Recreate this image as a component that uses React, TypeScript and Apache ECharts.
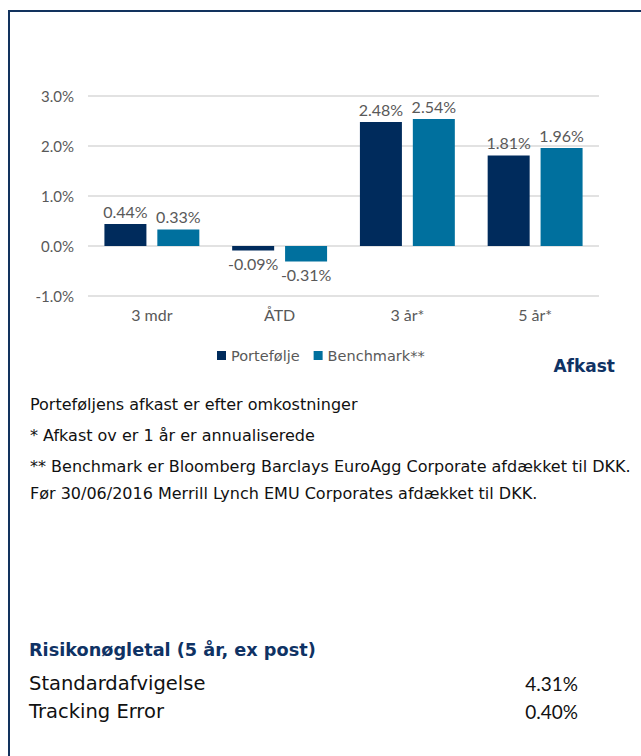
import React, { useEffect, useRef } from "react";
import * as echarts from "echarts";

const categories = ["3 mdr", "ÅTD", "3 år*", "5 år*"];
const portefolje = [0.44, -0.09, 2.48, 1.81];
const benchmark = [0.33, -0.31, 2.54, 1.96];
const seriesNames = ["Portefølje", "Benchmark**"];
const footnotes = [
  "Porteføljens afkast er efter omkostninger",
  "* Afkast ov er 1 år er annualiserede",
  "** Benchmark er Bloomberg Barclays EuroAgg Corporate afdækket til DKK.",
  "Før 30/06/2016 Merrill Lynch EMU Corporates afdækket til DKK.",
];
const riskTitle = "Risikonøgletal (5 år, ex post)";
const riskLabels = ["Standardafvigelse", "Tracking Error"];
const riskValues = ["4.31%", "0.40%"];

const FONT = "Lato";
const WIDE = "'DejaVu Sans'";
const GRAY = "#595959";
const NAVY = "#002B5C";
const TEAL = "#00709E";

export default function App() {
  const ref = useRef<HTMLDivElement>(null);
  useEffect(() => {
    if (!ref.current) return;
    const chart = echarts.init(ref.current, undefined, { renderer: "svg" });
    const labelFmt = (p: any) => p.value.toFixed(2) + "%";
    const mkData = (arr: number[]) =>
      arr.map((v) => ({
        value: v,
        label: { position: v >= 0 ? "top" : "bottom" },
      }));
    const footY = [404, 435, 466, 493];
    const riskY = [683, 711];
    chart.setOption({
      animation: false,
      textStyle: { fontFamily: FONT },
      grid: { left: 88, right: 42, top: 96, bottom: 460, containLabel: false },
      legend: {
        data: seriesNames,
        left: 212,
        top: 343,
        icon: "rect",
        itemWidth: 9,
        itemHeight: 9,
        itemGap: 14,
        textStyle: { color: GRAY, fontSize: 14.5, fontFamily: WIDE },
      },
      xAxis: {
        type: "category",
        data: categories,
        axisLine: { show: false, onZero: false },
        axisTick: { show: false },
        axisLabel: { color: GRAY, fontSize: 16, margin: 10, fontFamily: FONT },
      },
      yAxis: {
        type: "value",
        min: -1,
        max: 3,
        interval: 1,
        axisLine: { show: false },
        axisTick: { show: false },
        axisLabel: {
          color: GRAY,
          fontSize: 15,
          margin: 14,
          fontFamily: FONT,
          formatter: (v: number) => v.toFixed(1) + "%",
        },
        splitLine: { lineStyle: { color: "#d9d9d9", width: 1.5 } },
      },
      series: [
        {
          name: seriesNames[0],
          type: "bar",
          data: mkData(portefolje),
          barWidth: 42,
          barGap: "26%",
          itemStyle: { color: NAVY },
          label: {
            show: true,
            color: GRAY,
            fontSize: 16,
            distance: 5,
            fontFamily: FONT,
            formatter: labelFmt,
          },
        },
        {
          name: seriesNames[1],
          type: "bar",
          data: mkData(benchmark),
          barWidth: 42,
          barGap: "26%",
          itemStyle: { color: TEAL },
          label: {
            show: true,
            color: GRAY,
            fontSize: 16,
            distance: 5,
            fontFamily: FONT,
            formatter: labelFmt,
          },
        },
      ],
      graphic: [
        {
          type: "rect",
          shape: { x: 9, y: 11, width: 700, height: 800 },
          style: { fill: "none", stroke: "#12325E", lineWidth: 2 },
          silent: true,
        },
        {
          type: "text",
          x: 615,
          y: 366,
          style: {
            text: "Afkast",
            fill: "#0F3264",
            font: `bold 17px ${WIDE}`,
            textAlign: "right",
            textVerticalAlign: "middle",
          },
        },
        ...footnotes.map((t, i) => ({
          type: "text",
          x: 30,
          y: footY[i],
          style: {
            text: t,
            fill: "#111",
            font: `16px ${WIDE}`,
            textAlign: "left",
            textVerticalAlign: "middle",
          },
        })),
        {
          type: "text",
          x: 29,
          y: 650,
          style: {
            text: riskTitle,
            fill: "#0F3264",
            font: `bold 17.7px ${WIDE}`,
            textAlign: "left",
            textVerticalAlign: "middle",
          },
        },
        ...riskLabels.map((t, i) => ({
          type: "text",
          x: 29,
          y: riskY[i],
          style: {
            text: t,
            fill: "#111",
            font: `19.5px ${WIDE}`,
            textAlign: "left",
            textVerticalAlign: "middle",
          },
        })),
        ...riskValues.map((t, i) => ({
          type: "text",
          x: 578,
          y: riskY[i],
          style: {
            text: t,
            fill: "#111",
            font: `19px ${FONT}`,
            textAlign: "right",
            textVerticalAlign: "middle",
          },
        })),
      ],
    });
    return () => chart.dispose();
  }, []);
  return (
    <div
      ref={ref}
      style={{ position: "absolute", left: 0, top: 0, width: 641, height: 756, background: "#fff" }}
    />
  );
}
